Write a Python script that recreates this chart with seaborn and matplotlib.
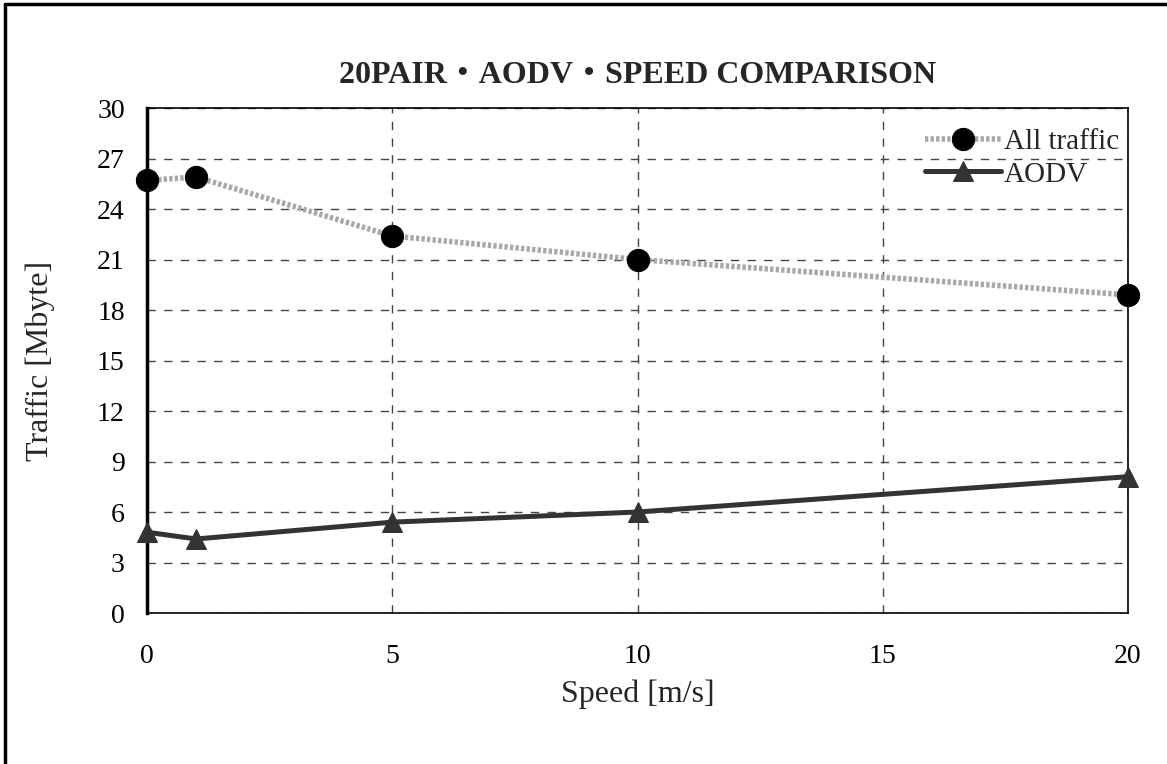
import matplotlib
matplotlib.use("Agg")
import matplotlib.pyplot as plt
from matplotlib.lines import Line2D
import seaborn as sns
import pandas as pd

speed = [0, 1, 5, 10, 20]
all_traffic = [25.7, 25.9, 22.4, 21.0, 18.9]
aodv = [4.8, 4.4, 5.4, 6.0, 8.1]
series_names = ["All traffic", "AODV"]
x_ticks = [0, 5, 10, 15, 20]
y_ticks = [0, 3, 6, 9, 12, 15, 18, 21, 24, 27, 30]

sns.set_theme(style="white")
plt.rcParams["font.family"] = ["Liberation Serif", "Noto Sans CJK JP"]

fig = plt.figure(figsize=(11.67, 7.64), dpi=100)
ax = fig.add_axes([0.126, 0.1976, 0.8406, 0.661])

df_all = pd.DataFrame({"speed": speed, "traffic": all_traffic})
df_aodv = pd.DataFrame({"speed": speed, "traffic": aodv})

sns.lineplot(data=df_all, x="speed", y="traffic", ax=ax, color="#a8a8a8",
             linewidth=4, linestyle=(0, (0.6, 0.4)), marker="o", markersize=16,
             markerfacecolor="black", markeredgecolor="black",
             label=series_names[0], clip_on=False, zorder=4)
sns.lineplot(data=df_aodv, x="speed", y="traffic", ax=ax, color="#333333",
             linewidth=3.6, marker="^", markersize=15,
             markerfacecolor="#333333", markeredgecolor="#333333",
             label=series_names[1], clip_on=False, zorder=4)

ax.set_xlim(0, 20)
ax.set_ylim(0, 30)
ax.set_xticks(x_ticks)
ax.set_yticks(y_ticks)
ax.tick_params(axis="both", labelsize=20, colors="black", length=0)
ax.tick_params(axis="x", pad=22)
ax.tick_params(axis="y", pad=16)

ax.grid(True, color="#444444", linestyle=(0, (6, 6)), linewidth=1)
ax.set_axisbelow(True)
for s in ax.spines.values():
    s.set_color("black")
    s.set_linewidth(1.2)
ax.spines["left"].set_linewidth(2.5)

ax.set_xlabel("Speed [m/s]", fontsize=23, labelpad=8)
ax.set_ylabel("Traffic [Mbyte]", fontsize=23, labelpad=30)
ax.set_title("20PAIR・AODV・SPEED COMPARISON", fontsize=23, fontweight="bold",
             pad=18)

leg = ax.legend(loc="upper right", bbox_to_anchor=(1.012, 1.0), frameon=False,
                fontsize=21, handlelength=2.6, handletextpad=0.1,
                borderaxespad=0.3, labelspacing=0.22)

# outer frame (left and top edges)
fig.add_artist(Line2D([5 / 1167, 5 / 1167], [0, 1 - 4 / 764], color="black",
                      linewidth=2.5, transform=fig.transFigure))
fig.add_artist(Line2D([5 / 1167, 1], [1 - 4 / 764, 1 - 4 / 764], color="black",
                      linewidth=2.5, transform=fig.transFigure))

fig.savefig("out.png", dpi=100, facecolor="white")
